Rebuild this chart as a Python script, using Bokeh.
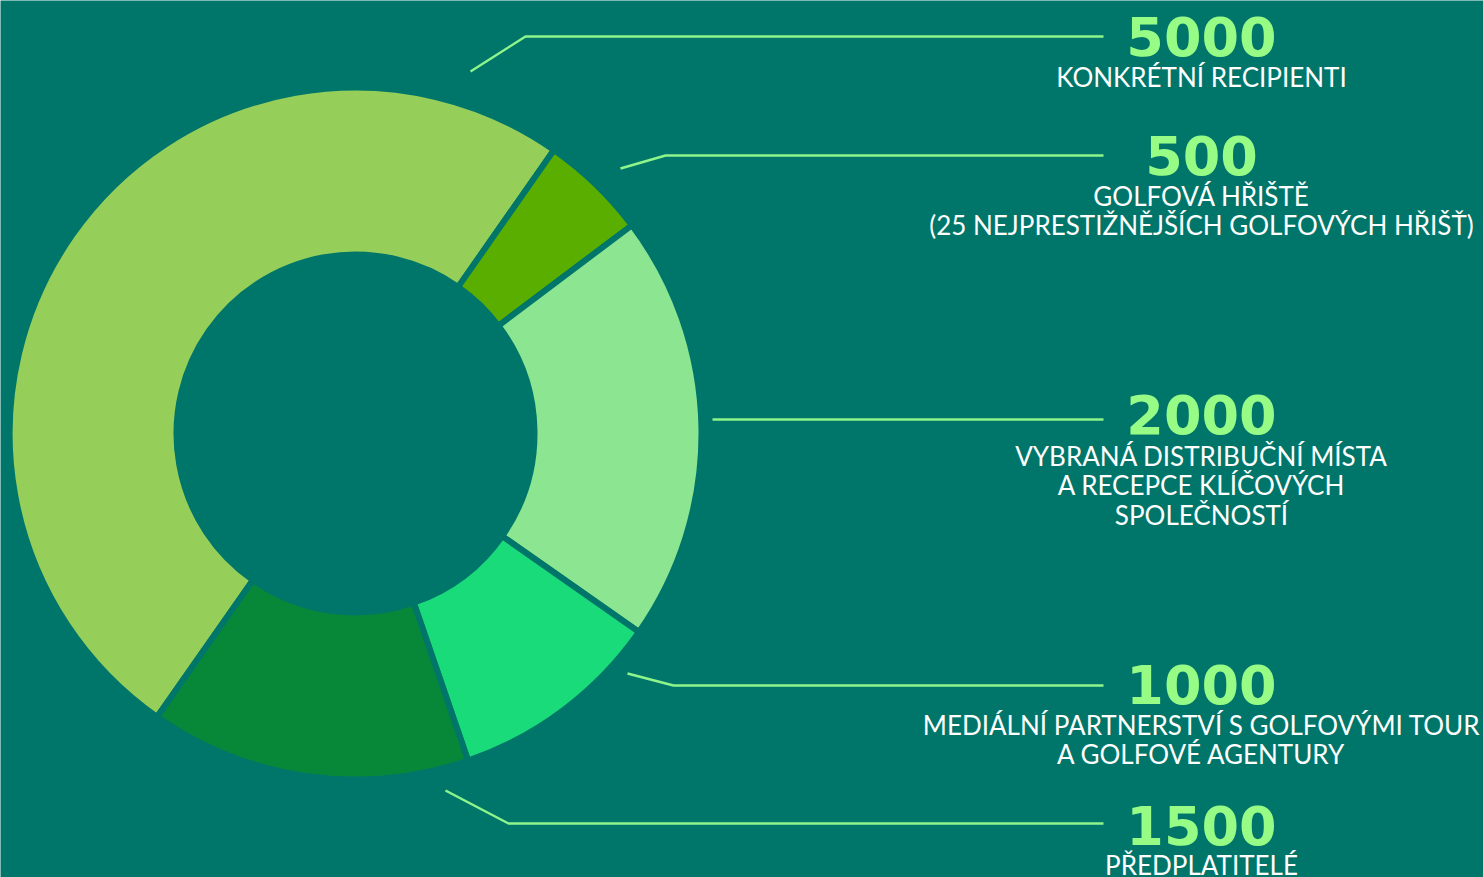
import math
from bokeh.plotting import figure
from bokeh.models import Range1d, ColumnDataSource
from bokeh.core.properties import value
from bokeh.embed import file_html
from bokeh.resources import INLINE

# ---- data ----
values = [5000, 500, 2000, 1000, 1500]
numbers = ["5000", "500", "2000", "1000", "1500"]
labels = [
    ["KONKRÉTNÍ RECIPIENTI"],
    ["GOLFOVÁ HŘIŠTĚ", "(25 NEJPRESTIŽNĚJŠÍCH GOLFOVÝCH HŘIŠŤ)"],
    ["VYBRANÁ DISTRIBUČNÍ MÍSTA", "A RECEPCE KLÍČOVÝCH", "SPOLEČNOSTÍ"],
    ["MEDIÁLNÍ PARTNERSTVÍ S GOLFOVÝMI TOUR", "A GOLFOVÉ AGENTURY"],
    ["PŘEDPLATITELÉ"],
]
colors = ["#95CF5A", "#5AAE00", "#8BE591", "#1ADB79", "#078839"]

# ---- layout / style ----
W, H = 1483, 877
BG = "#00766A"
LINE = "#8DF58A"
NUM = "#97FC86"
cx, cy = 355, H - 433
r_out, r_in = 343, 182
gap = 6
start_cw = 215.0  # degrees clockwise from 12 o'clock

def Y(y):
    return H - y

p = figure(width=W, height=H, x_range=Range1d(0, W), y_range=Range1d(0, H),
           output_backend="svg", toolbar_location=None, min_border=0,
           background_fill_color=BG, border_fill_color=BG, outline_line_color=None)
p.axis.visible = False
p.grid.visible = False

total = sum(values)
starts, ends = [], []
acc = start_cw
for v in values:
    a = acc
    b = acc + 360.0 * v / total
    starts.append(math.radians(90 - b))
    ends.append(math.radians(90 - a))
    acc = b

src = ColumnDataSource(dict(x=[cx] * len(values), y=[cy] * len(values),
                            s=starts, e=ends, c=colors))
p.annular_wedge(x="x", y="y", inner_radius=r_in - gap / 2, outer_radius=r_out + gap / 2,
                start_angle="s", end_angle="e", fill_color="c",
                line_color=BG, line_width=gap, line_join="bevel", source=src)

# leader lines (layout)
leaders = [
    ([470, 525, 1103], [71, 36, 36]),
    ([620, 665, 1103], [168, 155, 155]),
    ([712, 1103], [419, 419]),
    ([627, 673, 1103], [673, 685, 685]),
    ([445, 508, 1103], [790, 823, 823]),
]
for xs, ys in leaders:
    p.line(xs, [Y(v) for v in ys], line_color=LINE, line_width=2.5)

text_x = 1201
num_mid = [36, 155, 414, 684, 825]
label_mid = [76, 195, 455, 724, 864]
line_gap = 29.7

p.text(x=[text_x] * 5, y=[Y(v) for v in num_mid], text=numbers,
       text_font=value("DejaVu Sans"), text_font_style="bold", text_font_size="54px",
       text_color=NUM, text_align="center", text_baseline="middle")

lx, ly, lt = [], [], []
for i, lines in enumerate(labels):
    for j, t in enumerate(lines):
        lx.append(text_x)
        ly.append(Y(label_mid[i] + j * line_gap))
        lt.append(t)
p.text(x=lx, y=ly, text=lt, text_font=value("Lato"), text_font_size="26px",
       text_color="#FFFFFF", text_align="center", text_baseline="middle")

open("out.html", "w").write(file_html(p, INLINE))
